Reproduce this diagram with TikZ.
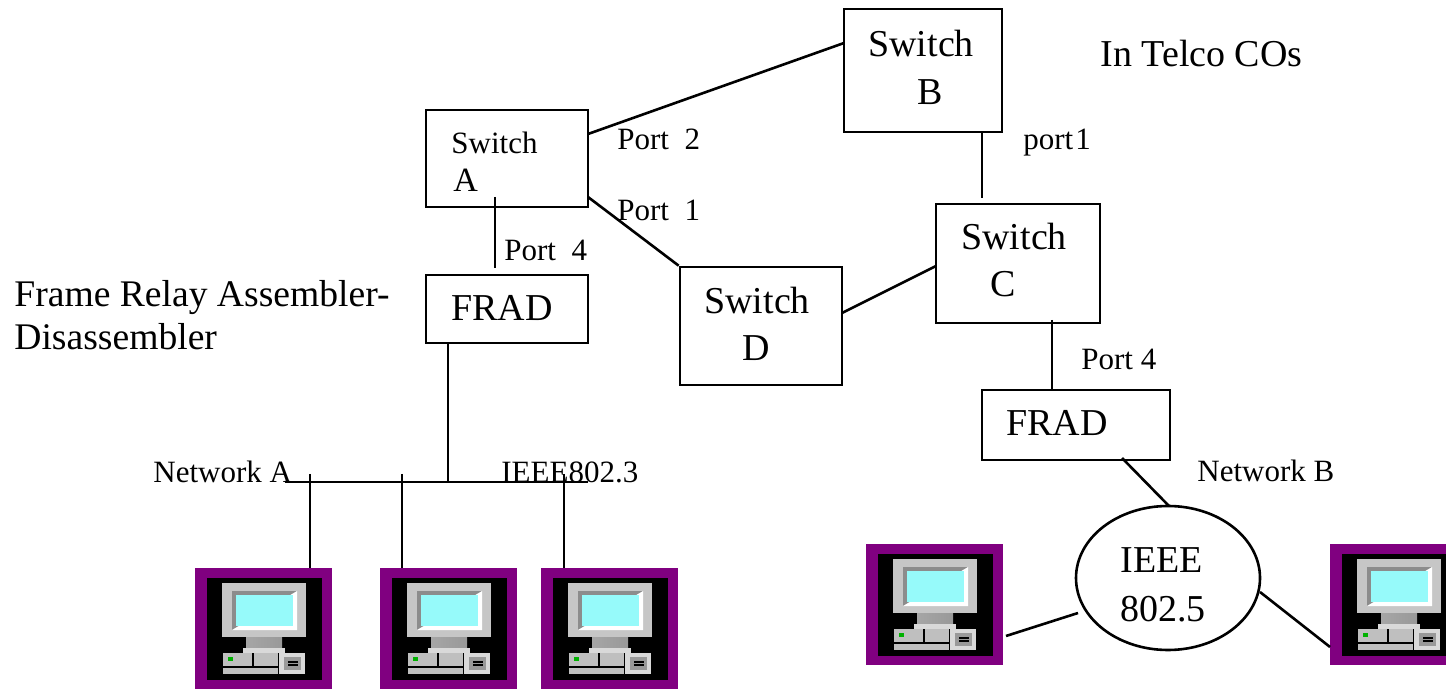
\documentclass[tikz,border=0pt]{standalone}
\usepackage{fontspec}
\usetikzlibrary{shapes.geometric}
\setmainfont{Liberation Serif}
\definecolor{pcframe}{RGB}{128,0,128}
\definecolor{pcscreen}{RGB}{150,250,250}
\tikzset{
  swbox/.style={draw,line width=1.3pt,inner sep=0pt,fill=white},
  wire/.style={line width=1.3pt},
  bigtext/.style={anchor=base west,inner sep=0pt,yshift=-0.5pt,font=\fontsize{19}{19}\selectfont},
  smalltext/.style={anchor=base west,inner sep=0pt,yshift=-0.5pt,font=\fontsize{15.5}{15.5}\selectfont},
  computer/.pic={
    \fill[pcframe] (0,0) rectangle (137,121);
    \fill[black] (12,10) rectangle (127,112);
    % Monitor
    \fill[gray!45] (27,15) rectangle (111,69);
    \fill[gray!90] (37,23) rectangle (102,62);
    \fill[white] (102,23) -- (102,62) -- (37,62) -- cycle;
    \fill[pcscreen] (41,27) rectangle (98,58);
    \shade[left color=gray!70,middle color=white,right color=gray!80] (51,69) rectangle (87,80);
    \fill[gray!30] (48,80) rectangle (90,85);
    % Case
    \fill[gray!50] (28,85) rectangle (83,106);
    \draw[black,line width=.6pt] (28,99) -- (83,99) (58,85) -- (58,99);
    \fill[gray!30] (84,85) rectangle (110,106);
    \fill[gray!80] (89,89) rectangle (106,102);
    \draw[black,line width=.6pt] (93,94) -- (103,94) (93,97) -- (103,97);
    \fill[green!70!black] (33,89) rectangle (38,93);
  }
}
\begin{document}
\begin{tikzpicture}[x=0.5pt,y=-0.5pt]
  \useasboundingbox (0,0) rectangle (1446,689);

  % Switches and FRADs
  \node[swbox,minimum width=79pt,minimum height=61.5pt] (swB) at (923,70.5) {};
  \node[swbox,minimum width=81pt,minimum height=48.5pt] (swA) at (507,158.5) {};
  \node[swbox,minimum width=81pt,minimum height=34pt] (fradA) at (507,309) {};
  \node[swbox,minimum width=81pt,minimum height=59pt] (swD) at (761,326) {};
  \node[swbox,minimum width=82pt,minimum height=59.5pt] (swC) at (1018,263.5) {};
  \node[swbox,minimum width=94pt,minimum height=35pt] (fradB) at (1076,425) {};
  \node[swbox,ellipse,minimum width=92pt,minimum height=72pt] (ring) at (1168,578) {};

  % Computers
  \pic at (195,568) {computer};
  \pic at (380,568) {computer};
  \pic at (541,568) {computer};
  \pic at (866,544) {computer};
  \begin{scope}
    \clip (0,0) rectangle (1446,689);
    \pic at (1330,544) {computer};
  \end{scope}

  % Wire ends
  \coordinate (busL) at (285,482);
  \coordinate (busR) at (588,482);
  \coordinate (busM) at (448,482);
  \coordinate (tapA) at (310,474);
  \coordinate (tapB) at (402,474);
  \coordinate (tapC) at (564,474);
  \coordinate (pcA) at (310,568);
  \coordinate (pcB) at (402,568);
  \coordinate (pcC) at (564,568);
  \coordinate (pcD) at (1006,636);
  \coordinate (pcE) at (1330,647);
  \coordinate (portA2) at (588,134);
  \coordinate (portA1) at (588,197);
  \coordinate (portA4) at (495,197);
  \coordinate (fradAup) at (495,268);
  \coordinate (fradAdn) at (448,343);
  \coordinate (portB1) at (982,132);
  \coordinate (swBin) at (844,43);
  \coordinate (swCup) at (982,198);
  \coordinate (swCle) at (936,266);
  \coordinate (swDri) at (842,313);
  \coordinate (swCdn) at (1052,320);
  \coordinate (fradBup) at (1052,390);
  \coordinate (fradBdn) at (1122,458);
  \coordinate (ringUp) at (1169,506);
  \coordinate (ringLe) at (1078,613);
  \coordinate (ringRi) at (1260,592);

  % Links
  \draw[wire] (portA2) -- (swBin);
  \draw[wire] (portA1) -- (swD.north west);
  \draw[wire] (portA4) -- (fradAup);
  \draw[wire] (portB1) -- (swCup);
  \draw[wire] (swDri) -- (swCle);
  \draw[wire] (swCdn) -- (fradBup);
  \draw[wire] (fradBdn) -- (ringUp);
  \draw[wire] (pcD) -- (ringLe);
  \draw[wire] (ringRi) -- (pcE);
  \draw[wire] (fradAdn) -- (busM);
  \draw[wire] (busL) -- (busR);
  \draw[wire] (tapA) -- (pcA);
  \draw[wire] (tapB) -- (pcB);
  \draw[wire] (tapC) -- (pcC);

  % Labels
  \node[bigtext] (tB1) at (868,56) {Switch};
  \node[bigtext] (tB2) at (917,104) {B};
  \node[bigtext] (tCO) at (1100,66) {In Telco COs};
  \node[smalltext] (tA1) at (451,153) {Switch};
  \node[smalltext,font=\fontsize{17}{17}\selectfont] (tA2) at (453,191) {A};
  \node[smalltext] (tP2) at (617,149) {Port\ \ 2};
  \node[smalltext] (tP1) at (617,220) {Port\ \ 1};
  \node[smalltext] (tP4) at (504,260) {Port\ \ 4};
  \node[smalltext] (tp1) at (1023,149) {port\kern1pt 1};
  \node[bigtext] (tC1) at (961,249) {Switch};
  \node[bigtext] (tC2) at (990,296) {C};
  \node[bigtext] (tD1) at (704,313) {Switch};
  \node[bigtext] (tD2) at (742,360) {D};
  \node[bigtext] (tF1) at (451,320) {FRAD};
  \node[bigtext] (tF2) at (1006,435) {FRAD};
  \node[bigtext,font=\fontsize{18.8}{18.8}\selectfont] (tFR1) at (14,306) {Frame Relay Assembler-};
  \node[bigtext,font=\fontsize{18.8}{18.8}\selectfont] (tFR2) at (14,349) {Disassembler};
  \node[smalltext] (tNA) at (153,481) {Network A};
  \node[smalltext] (tIE) at (501,481) {IEEE802.3};
  \node[smalltext] (tP4b) at (1081,369) {Port 4};
  \node[smalltext] (tNB) at (1197,480) {Network B};
  \node[bigtext] (tR1) at (1120,571) {IEEE};
  \node[bigtext] (tR2) at (1120,620) {802.5};
\end{tikzpicture}
\end{document}
